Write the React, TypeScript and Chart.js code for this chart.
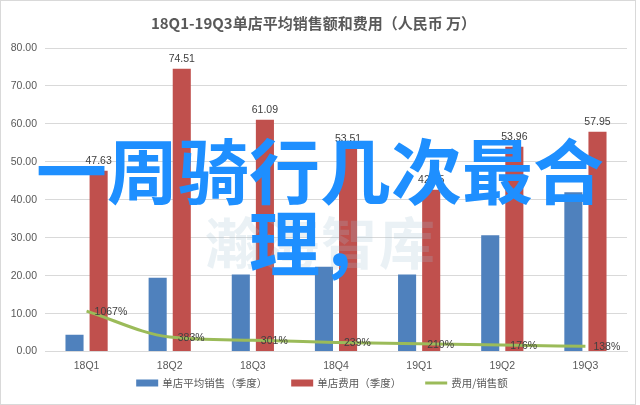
import React, { useEffect, useRef } from "react";
import { Chart, registerables } from "chart.js";

Chart.register(...registerables);

const titleText = "18Q1-19Q3单店平均销售额和费用（人民币 万）";
const categories = ["18Q1", "18Q2", "18Q3", "18Q4", "19Q1", "19Q2", "19Q3"];
const salesLabel = "单店平均销售（季度）";
const costLabel = "单店费用（季度）";
const ratioLabel = "费用/销售额";
const salesValues = [4.46, 19.45, 20.3, 22.39, 20.31, 30.66, 41.99];
const costValues = [47.63, 74.51, 61.09, 53.51, 42.65, 53.96, 57.95];
const ratioValues = [10.67, 3.83, 3.01, 2.39, 2.1, 1.76, 1.38];
const ratioLabels = ["1067%", "383%", "301%", "239%", "210%", "176%", "138%"];
const overlayText = "一周骑行几次最合理，";
const watermarkText = "瀚海智库";

const BLUE = "#4F81BD";
const RED = "#C0504D";
const GREEN = "#9BBB59";
const NUM_FONT = "'Liberation Sans', Arial, sans-serif";
const CJK_FONT = "'Noto Sans CJK SC', 'Noto Sans', sans-serif";

const labelPlugin = {
  id: "valueLabels",
  afterDatasetsDraw(chart: any) {
    const ctx = chart.ctx;
    ctx.save();
    ctx.font = `10.5px ${NUM_FONT}`;
    ctx.fillStyle = "#404040";
    ctx.textAlign = "center";
    ctx.textBaseline = "bottom";
    const costMeta = chart.getDatasetMeta(1);
    costMeta.data.forEach((el: any, i: number) => {
      ctx.fillText(costValues[i].toFixed(2), el.x, el.y - 4);
    });
    const ratioMeta = chart.getDatasetMeta(2);
    ctx.textAlign = "left";
    ctx.textBaseline = "middle";
    ratioMeta.data.forEach((el: any, i: number) => {
      ctx.fillText(ratioLabels[i], el.x + 8, el.y + 1);
    });
    ctx.restore();
  },
};

const legendPlugin = {
  id: "customLegend",
  afterDraw(chart: any) {
    const ctx = chart.ctx;
    ctx.save();
    ctx.strokeStyle = "#d9d9d9";
    ctx.lineWidth = 1;
    ctx.strokeRect(0.5, 0.5, 635, 404);

    const items = [
      { kind: "rect", color: BLUE, text: salesLabel },
      { kind: "rect", color: RED, text: costLabel },
      { kind: "line", color: GREEN, text: ratioLabel },
    ];
    ctx.font = `10.5px ${CJK_FONT}`;
    const sw = 22;
    const gapText = 4;
    const gapItem = 24;
    const widths = items.map((it) => sw + gapText + ctx.measureText(it.text).width);
    const total = widths.reduce((a, b) => a + b, 0) + gapItem * (items.length - 1);
    let x = 322 - total / 2;
    const cy = 383;
    ctx.textBaseline = "middle";
    ctx.textAlign = "left";
    items.forEach((it, i) => {
      if (it.kind === "rect") {
        ctx.fillStyle = it.color;
        ctx.fillRect(x, cy - 3.5, sw, 7);
      } else {
        ctx.strokeStyle = it.color;
        ctx.lineWidth = 3;
        ctx.beginPath();
        ctx.moveTo(x, cy);
        ctx.lineTo(x + sw, cy);
        ctx.stroke();
      }
      ctx.fillStyle = "#595959";
      ctx.fillText(it.text, x + sw + gapText, cy);
      x += widths[i] + gapItem;
    });
    ctx.restore();
  },
};

export default function App() {
  const canvasRef = useRef<HTMLCanvasElement | null>(null);

  useEffect(() => {
    if (!canvasRef.current) return;
    const chart = new Chart(canvasRef.current, {
      type: "bar",
      data: {
        labels: categories,
        datasets: [
          {
            type: "bar",
            label: salesLabel,
            data: salesValues,
            backgroundColor: BLUE,
            borderWidth: 0,
            barPercentage: 0.75,
            categoryPercentage: 0.58,
          },
          {
            type: "bar",
            label: costLabel,
            data: costValues,
            backgroundColor: RED,
            borderWidth: 0,
            barPercentage: 0.75,
            categoryPercentage: 0.58,
          },
          {
            type: "line",
            label: ratioLabel,
            data: ratioValues,
            borderColor: GREEN,
            backgroundColor: GREEN,
            borderWidth: 3,
            pointRadius: 0,
            cubicInterpolationMode: "monotone",
            fill: false,
            order: -1,
          } as any,
        ],
      },
      options: {
        responsive: false,
        animation: false,
        maintainAspectRatio: false,
        layout: { padding: { left: 0, right: 13, top: 0, bottom: 24.8 } },
        plugins: {
          legend: { display: false },
          tooltip: { enabled: false },
          title: {
            display: true,
            text: titleText,
            color: "#595959",
            font: { size: 15, weight: "bold", family: CJK_FONT },
            padding: { top: 14, bottom: 16 },
          },
        },
        scales: {
          x: {
            grid: { display: false, drawTicks: false },
            border: { display: true, color: "#d9d9d9" },
            ticks: {
              color: "#595959",
              font: { size: 10.5, family: NUM_FONT },
              padding: 8,
              maxRotation: 0,
            },
          },
          y: {
            min: 0,
            max: 80,
            grid: { color: "#d9d9d9", drawTicks: false },
            border: { display: false },
            ticks: {
              stepSize: 10,
              color: "#595959",
              font: { size: 10.5, family: NUM_FONT },
              padding: 8,
              callback: (v: any) => Number(v).toFixed(2),
            },
            afterFit: (scale: any) => {
              scale.width = 45;
            },
          },
        },
      },
      plugins: [labelPlugin, legendPlugin],
    });
    return () => chart.destroy();
  }, []);

  return (
    <div style={{ position: "fixed", left: 0, top: 0, width: 640, height: 405, background: "#fff", overflow: "hidden" }}>
      <canvas ref={canvasRef} width={640} height={405} style={{ display: "block" }} />
      <div
        style={{
          position: "absolute",
          left: 205,
          top: 200,
          fontFamily: CJK_FONT,
          fontWeight: 700,
          fontSize: 56,
          lineHeight: "80px",
          color: "rgba(160,190,210,0.22)",
          letterSpacing: 2,
          pointerEvents: "none",
          whiteSpace: "nowrap",
        }}
      >
        {watermarkText}
      </div>
      <div
        style={{
          position: "absolute",
          left: 20,
          top: 131,
          width: 600,
          textAlign: "center",
          fontFamily: CJK_FONT,
          fontWeight: 700,
          fontSize: 71,
          lineHeight: "72px",
          color: "#1E8FFF",
          pointerEvents: "none",
        }}
      >
        {overlayText}
      </div>
    </div>
  );
}
